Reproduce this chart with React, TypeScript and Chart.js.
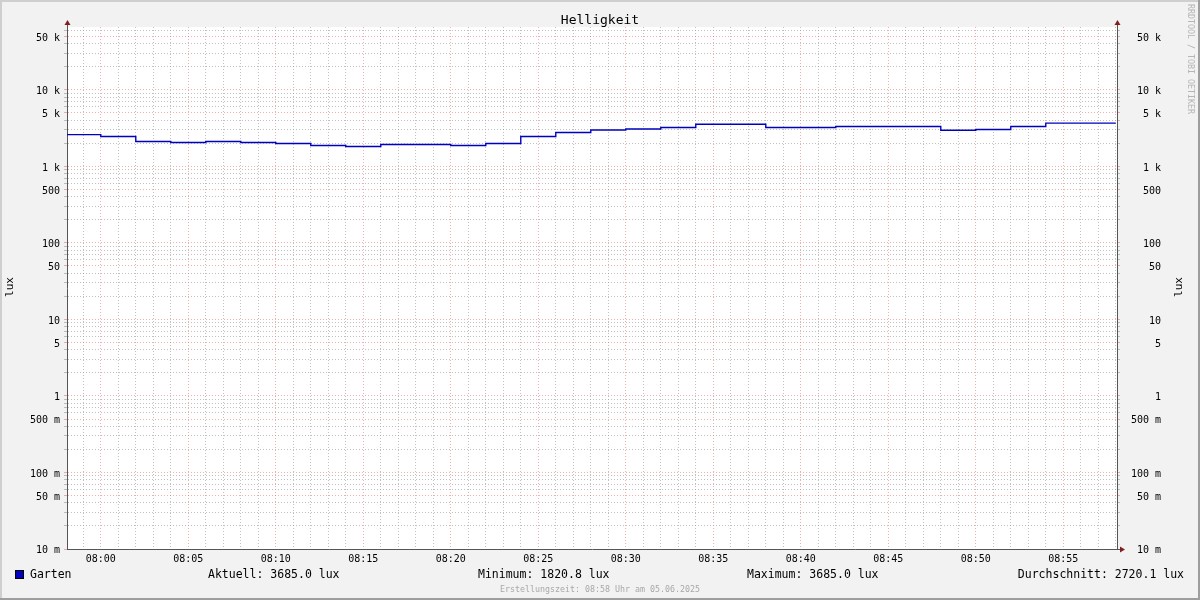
import React, { useEffect, useRef } from "react";
import { Chart, registerables } from "chart.js";

Chart.register(...registerables);

// ---------------- data ----------------
const TITLE = "Helligkeit";
const SERIES_LABEL = "Garten";
const UNIT = "lux";

// start minute (relative to 08:00) of each 2-minute consolidated value
const segmentStarts = [
  -2, 0, 2, 4, 6, 8, 10, 12, 14, 16, 18, 20, 22, 24, 26, 28, 30, 32, 34, 36, 38,
  40, 42, 44, 46, 48, 50, 52, 54, 56,
];
const luxValues = [
  2610, 2460, 2116, 2054, 2116, 2054, 1994, 1876, 1820.8, 1934, 1934, 1876,
  1994, 2460, 2775, 3001, 3093, 3226, 3560, 3560, 3226, 3226, 3325, 3325,
  3325, 2974, 3037, 3325, 3685, 3685,
];
const dataEndMinute = 58;

const xMinMinute = -1.93;
const xMaxMinute = 58.07;
const yMinLux = 0.01;
const yMaxLux = 66500;

const xTickMinutes = [0, 5, 10, 15, 20, 25, 30, 35, 40, 45, 50, 55];
const xTickLabels = [
  "08:00", "08:05", "08:10", "08:15", "08:20", "08:25",
  "08:30", "08:35", "08:40", "08:45", "08:50", "08:55",
];
const yLabelValues = [
  0.01, 0.05, 0.1, 0.5, 1, 5, 10, 50, 100, 500, 1000, 5000, 10000, 50000,
];
const yTickLabels = [
  "10 m", "50 m", "100 m", "500 m", "1", "5", "10", "50", "100", "500",
  "1 k", "5 k", "10 k", "50 k",
];

const statTexts = [
  "Aktuell: 3685.0 lux",
  "Minimum: 1820.8 lux",
  "Maximum: 3685.0 lux",
  "Durchschnitt: 2720.1 lux",
];
const FOOTER = "Erstellungszeit: 08:58 Uhr am 05.06.2025";
const WATERMARK = "RRDTOOL / TOBI OETIKER";

// ---------------- style ----------------
const FONT = '"DejaVu Sans Mono", monospace';
const BACK = "#f2f2f2";
const SHADE_A = "#cfcfcf";
const SHADE_B = "#9e9e9e";
const GRID = "rgba(150,150,150,0.6)";
const MGRID = "rgba(222,79,79,0.45)";
const AXIS = "#555555";
const ARROW = "#801f1f";
const LINE = "#0000c0";

const near = (a: number, b: number) => Math.abs(a - b) <= Math.abs(b) * 1e-6;
const yLabelIndex = (v: number) => yLabelValues.findIndex((t) => near(v, t));
const isMajorY = (v: number) => yLabelIndex(v) >= 0;

const yGridValues: number[] = [];
for (let e = -2; e <= 4; e++) {
  for (let m = 1; m <= 9; m++) {
    const v = parseFloat((m * Math.pow(10, e)).toPrecision(8));
    if (v >= yMinLux && v <= yMaxLux) yGridValues.push(v);
  }
}
const minuteTicks: number[] = [];
for (let m = Math.ceil(xMinMinute); m <= Math.floor(xMaxMinute); m++) minuteTicks.push(m);
const isMajorX = (v: number) => xTickMinutes.indexOf(v) >= 0;

const PAD_LEFT = 20;
const CHART_LEFT = 67;
const CHART_RIGHT = 1117;
const RIGHT_LABEL_EDGE = 1161;
const CHART_TOP = 27;
const CHART_BOTTOM = 549;
const X_AXIS_H = 20;
const W = 1200;
const H = 600;

const decorPlugin = {
  id: "rrdDecor",
  beforeDraw(chart: any) {
    const { ctx, chartArea: a } = chart;
    ctx.save();
    ctx.fillStyle = BACK;
    ctx.fillRect(0, 0, W, H);
    ctx.fillStyle = "#ffffff";
    ctx.fillRect(a.left, a.top, a.right - a.left, a.bottom - a.top);
    ctx.restore();
  },
  afterDraw(chart: any) {
    const { ctx, chartArea: a } = chart;
    ctx.save();
    // frame
    ctx.fillStyle = SHADE_A;
    ctx.fillRect(0, 0, W, 2);
    ctx.fillRect(0, 0, 2, H);
    ctx.fillStyle = SHADE_B;
    ctx.fillRect(0, H - 2, W, 2);
    ctx.fillRect(W - 2, 0, 2, H);

    // axis extensions and arrows
    const lx = Math.round(a.left) + 0.5;
    const rx = Math.round(a.right) + 0.5;
    const by = Math.round(a.bottom) + 0.5;
    ctx.strokeStyle = AXIS;
    ctx.lineWidth = 1;
    ctx.beginPath();
    ctx.moveTo(lx, a.top);
    ctx.lineTo(lx, a.top - 3);
    ctx.moveTo(rx, a.top);
    ctx.lineTo(rx, a.top - 3);
    ctx.moveTo(a.right, by);
    ctx.lineTo(a.right + 4, by);
    ctx.stroke();
    ctx.fillStyle = ARROW;
    const upArrow = (x: number) => {
      ctx.beginPath();
      ctx.moveTo(x, a.top - 7);
      ctx.lineTo(x - 3, a.top - 2);
      ctx.lineTo(x + 3, a.top - 2);
      ctx.closePath();
      ctx.fill();
    };
    upArrow(lx);
    upArrow(rx);
    ctx.beginPath();
    ctx.moveTo(a.right + 8, by);
    ctx.lineTo(a.right + 3, by - 3);
    ctx.lineTo(a.right + 3, by + 3);
    ctx.closePath();
    ctx.fill();

    // title
    ctx.fillStyle = "#000";
    ctx.font = `13px ${FONT}`;
    ctx.textAlign = "center";
    ctx.textBaseline = "middle";
    ctx.fillText(TITLE, 600, 20.5);

    // unit labels
    ctx.font = `11px ${FONT}`;
    const vert = (x: number, y: number, t: string) => {
      ctx.save();
      ctx.translate(x, y);
      ctx.rotate(-Math.PI / 2);
      ctx.textAlign = "center";
      ctx.textBaseline = "middle";
      ctx.fillText(t, 0, 0);
      ctx.restore();
    };
    vert(10, 287, UNIT);
    vert(1179, 287, UNIT);

    // watermark
    ctx.save();
    ctx.fillStyle = "#b5b5b5";
    ctx.font = `8.3px ${FONT}`;
    ctx.translate(1190, 4);
    ctx.rotate(Math.PI / 2);
    ctx.textAlign = "left";
    ctx.textBaseline = "middle";
    ctx.fillText(WATERMARK, 0, 0);
    ctx.restore();

    // legend
    const ly = 575.5;
    ctx.fillStyle = LINE;
    ctx.fillRect(15, 570, 9, 9);
    ctx.strokeStyle = "#000";
    ctx.strokeRect(15.5, 570.5, 8, 8);
    ctx.fillStyle = "#000";
    ctx.font = `11.5px ${FONT}`;
    ctx.textBaseline = "middle";
    ctx.textAlign = "left";
    ctx.fillText(SERIES_LABEL, 30, ly);
    ctx.fillText(statTexts[0], 208, ly);
    ctx.fillText(statTexts[1], 478, ly);
    ctx.fillText(statTexts[2], 747, ly);
    ctx.textAlign = "right";
    ctx.fillText(statTexts[3], 1184, ly);

    // footer
    ctx.fillStyle = "#a8a8a8";
    ctx.font = `8.3px ${FONT}`;
    ctx.textAlign = "center";
    ctx.fillText(FOOTER, 600, 589.5);
    ctx.restore();
  },
};

export default function App() {
  const canvasRef = useRef<HTMLCanvasElement | null>(null);

  useEffect(() => {
    const canvas = canvasRef.current;
    if (!canvas) return;

    const points = segmentStarts.map((s, i) => ({ x: s, y: luxValues[i] }));
    points.push({ x: dataEndMinute, y: luxValues[luxValues.length - 1] });

    const yTicksBuilder = (s: any) => {
      s.ticks = yGridValues.map((v) => ({ value: v }));
    };
    const yLabel = (v: any) => {
      const i = yLabelIndex(Number(v));
      return i >= 0 ? yTickLabels[i] : "";
    };
    const yGridColor = (c: any) =>
      c.tick && isMajorY(c.tick.value) ? MGRID : GRID;

    const chart = new Chart(canvas, {
      type: "line",
      data: {
        datasets: [
          {
            label: SERIES_LABEL,
            data: points,
            borderColor: LINE,
            borderWidth: 1.4,
            pointRadius: 0,
            stepped: "before",
            fill: false,
            clip: 0,
            yAxisID: "y",
            xAxisID: "x",
          },
        ],
      },
      options: {
        animation: false,
        responsive: false,
        devicePixelRatio: 1,
        events: [],
        layout: {
          padding: {
            left: PAD_LEFT,
            right: W - RIGHT_LABEL_EDGE,
            top: CHART_TOP,
            bottom: H - CHART_BOTTOM - X_AXIS_H,
          },
        },
        plugins: {
          legend: { display: false },
          title: { display: false },
          tooltip: { enabled: false },
        },
        scales: {
          x: {
            type: "linear",
            position: "bottom",
            min: xMinMinute,
            max: xMaxMinute,
            afterBuildTicks: (s: any) => {
              s.ticks = minuteTicks.map((v) => ({ value: v }));
            },
            afterFit: (s: any) => {
              s.height = X_AXIS_H;
            },
            ticks: {
              autoSkip: false,
              maxRotation: 0,
              padding: 4,
              color: "#000",
              font: { family: FONT, size: 10 },
              callback: (v: any) => {
                const i = xTickMinutes.indexOf(Number(v));
                return i >= 0 ? xTickLabels[i] : "";
              },
            },
            grid: {
              color: (c: any) => (c.tick && isMajorX(c.tick.value) ? MGRID : GRID),
              lineWidth: 1,
              drawTicks: false,
            },
            border: { display: true, color: AXIS, width: 1, dash: [1, 2] },
          },
          y: {
            type: "logarithmic",
            position: "left",
            min: yMinLux,
            max: yMaxLux,
            afterBuildTicks: yTicksBuilder,
            afterFit: (s: any) => {
              s.width = CHART_LEFT - PAD_LEFT;
            },
            ticks: {
              autoSkip: false,
              padding: 4,
              labelOffset: 1.5,
              color: "#000",
              font: { family: FONT, size: 10 },
              callback: yLabel,
            },
            grid: {
              color: yGridColor,
              lineWidth: 1,
              drawTicks: true,
              tickLength: 3,
              tickColor: yGridColor,
            },
            border: { display: true, color: AXIS, width: 1, dash: [1, 2] },
          },
          y2: {
            type: "logarithmic",
            position: "right",
            min: yMinLux,
            max: yMaxLux,
            afterBuildTicks: yTicksBuilder,
            afterFit: (s: any) => {
              s.width = RIGHT_LABEL_EDGE - CHART_RIGHT;
            },
            ticks: {
              autoSkip: false,
              padding: 4,
              labelOffset: 1.5,
              crossAlign: "far",
              color: "#000",
              font: { family: FONT, size: 10 },
              callback: yLabel,
            },
            grid: {
              drawOnChartArea: false,
              color: yGridColor,
              lineWidth: 1,
              drawTicks: true,
              tickLength: 3,
              tickColor: yGridColor,
            },
            border: { display: true, color: AXIS, width: 1 },
          },
        },
      } as any,
      plugins: [decorPlugin],
    });

    return () => chart.destroy();
  }, []);

  return (
    <div style={{ position: "fixed", left: 0, top: 0, width: W, height: H }}>
      <canvas ref={canvasRef} width={W} height={H} style={{ display: "block" }} />
    </div>
  );
}
